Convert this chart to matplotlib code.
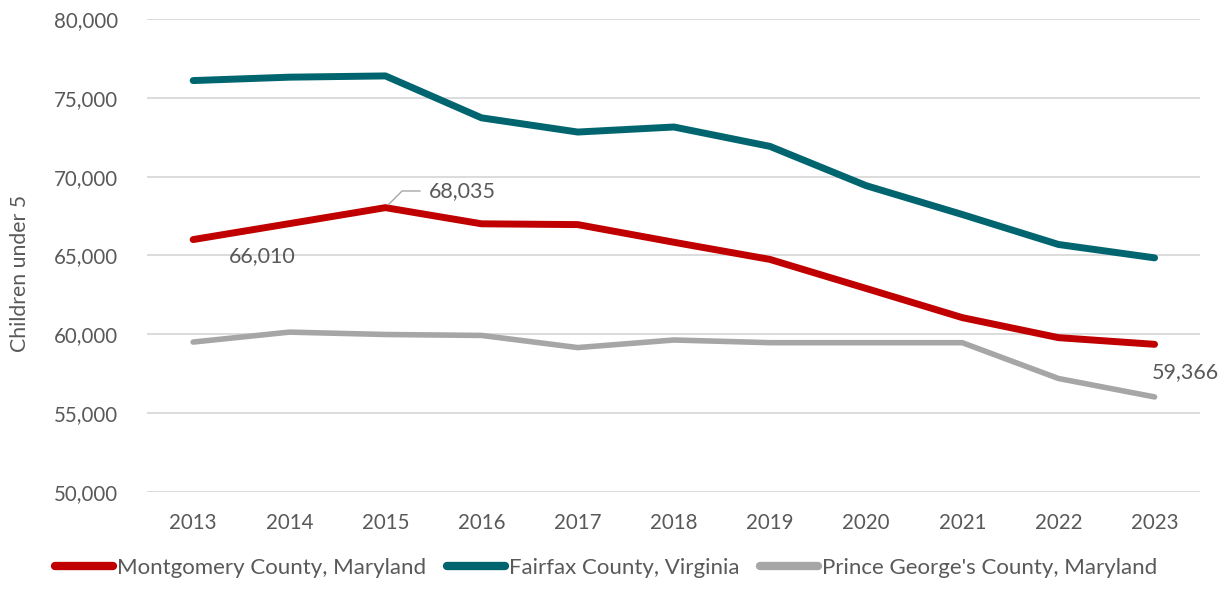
## children under 5, three counties
import matplotlib
matplotlib.use('Agg')
import matplotlib.pyplot as plt
from matplotlib.ticker import FuncFormatter

years = [2013, 2014, 2015, 2016, 2017, 2018, 2019, 2020, 2021, 2022, 2023]

montgomery = [66010, 67020, 68035, 67010, 66960, 65840, 64750, 62910, 61060, 59790, 59366]
fairfax = [76095, 76310, 76390, 73730, 72830, 73150, 71920, 69430, 67600, 65700, 64850]
prince_georges = [59510, 60140, 59990, 59930, 59160, 59640, 59470, 59470, 59470, 57200, 56030]

labels = ['Montgomery County, Maryland', 'Fairfax County, Virginia',
          "Prince George's County, Maryland"]

txt = '#595959'
plt.rcParams['font.family'] = ['Lato', 'DejaVu Sans']

fig = plt.figure(figsize=(12.28, 5.9), dpi=100)
ax = fig.add_axes([0.1197, 0.1661, 0.8573, 0.8017])

ax.plot(years, montgomery, color='#C00000', lw=5, solid_capstyle='round', label=labels[0], zorder=3)
ax.plot(years, fairfax, color='#00656F', lw=5, solid_capstyle='round', label=labels[1], zorder=3)
ax.plot(years, prince_georges, color='#A6A6A6', lw=4, solid_capstyle='round', label=labels[2], zorder=3)

ax.set_xlim(2012.52, 2023.47)
ax.set_ylim(50000, 80000)
ax.set_xticks(years)
ax.set_yticks(range(50000, 80001, 5000))
ax.yaxis.set_major_formatter(FuncFormatter(lambda v, p: f'{int(v):,}'))
ax.grid(axis='y', color='#D9D9D9', lw=1.3)
ax.set_axisbelow(True)
for s in ax.spines.values():
    s.set_visible(False)
ax.tick_params(axis='both', length=0, labelsize=14.8, labelcolor=txt)
ax.tick_params(axis='y', pad=21)
ax.tick_params(axis='x', pad=15)
ax.set_ylabel('Children under 5', fontsize=15.3, color=txt)
ax.yaxis.set_label_coords(-0.111, 0.463)

# data labels
ax.annotate(f'{montgomery[0]:,}', (years[0], montgomery[0]), xytext=(26, -12),
            textcoords='offset points', fontsize=15.5, color=txt, ha='left', va='center')
ax.annotate(f'{montgomery[2]:,}', (years[2], montgomery[2]), xytext=(31, 12),
            textcoords='offset points', fontsize=15.5, color=txt, ha='left', va='center',
            arrowprops=dict(arrowstyle='-', color='#A6A6A6', lw=1,
                            connectionstyle='angle,angleA=0,angleB=45,rad=0',
                            shrinkA=4, shrinkB=3))
ax.annotate(f'{montgomery[-1]:,}', (years[-1], montgomery[-1]), xytext=(-2, -20),
            textcoords='offset points', fontsize=15.5, color=txt, ha='left', va='center')

leg = fig.legend(loc='center left', bbox_to_anchor=(0.0448, 0.037), ncol=3, frameon=False,
                 fontsize=16.0, handlelength=2.62, handletextpad=0.18, columnspacing=0.92,
                 borderpad=0, borderaxespad=0, labelcolor=txt)
for h in leg.get_lines():
    h.set_linewidth(6)
    h.set_solid_capstyle('round')

fig.savefig('out.png', dpi=100)
